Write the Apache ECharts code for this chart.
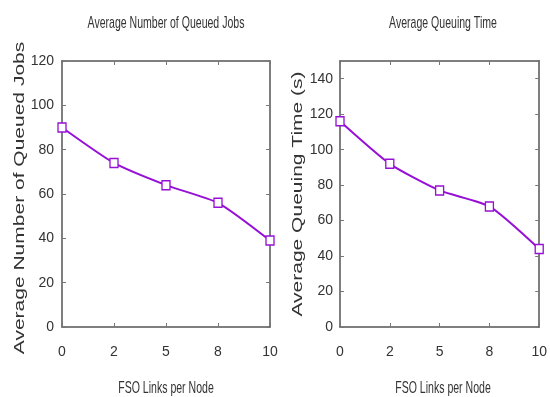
<!DOCTYPE html>
<html>
<head>
<meta charset="utf-8">
<script src="https://cdn.jsdelivr.net/npm/echarts@6/dist/echarts.min.js"></script>
<style>
  html, body { margin: 0; padding: 0; background: #fff; }
  #chart { width: 550px; height: 397px; }
</style>
</head>
<body>
<div id="chart"></div>
<script>
// FSO links per node (category axis)
const categories = ['0', '2', '5', '8', '10'];
// left panel: average number of queued jobs
const queuedJobs = [90, 74, 64, 56, 39];
// right panel: average queuing time (s)
const queuingTime = [116, 92, 77, 68, 44];

const lineColor = '#9610d6';
const frameColor = '#555';
const sans = '"Liberation Sans", Arial, sans-serif';

const chart = echarts.init(document.getElementById('chart'));

function xAxisPair(gridIndex) {
    return [{
        type: 'category', gridIndex, data: categories, boundaryGap: false,
        axisLine: { onZero: false, lineStyle: { color: frameColor, width: 1.5 } },
        axisTick: { inside: true, length: 4, lineStyle: { color: '#777' } },
        axisLabel: { margin: 18, fontSize: 14, fontFamily: sans, color: '#333' },
        splitLine: { show: false }
    }, {
        type: 'category', gridIndex, data: categories, boundaryGap: false, position: 'top',
        axisLine: { onZero: false, lineStyle: { color: frameColor, width: 1.5 } },
        axisTick: { inside: true, length: 4, lineStyle: { color: '#777' } },
        axisLabel: { show: false },
        splitLine: { show: false }
    }];
}

function yAxisPair(gridIndex, max, margin) {
    return [{
        type: 'value', gridIndex, min: 0, max, interval: 20,
        axisLine: { show: true, onZero: false, lineStyle: { color: frameColor, width: 1.5 } },
        axisTick: { show: true, inside: true, length: 4, lineStyle: { color: '#777' } },
        axisLabel: { margin, fontSize: 14, fontFamily: sans, color: '#333', showMaxLabel: max % 20 === 0 },
        splitLine: { show: false }
    }, {
        type: 'value', gridIndex, min: 0, max, interval: 20, position: 'right',
        axisLine: { show: true, onZero: false, lineStyle: { color: frameColor, width: 1.5 } },
        axisTick: { show: true, inside: true, length: 4, lineStyle: { color: '#777' } },
        axisLabel: { show: false },
        splitLine: { show: false }
    }];
}

function txt(x, y, text, size, extra) {
    return Object.assign({
        type: 'text', x, y,
        style: {
            text, fill: '#333',
            fontSize: size, fontFamily: sans,
            textAlign: 'center', textVerticalAlign: 'middle',
            align: 'center', verticalAlign: 'middle'
        }
    }, extra);
}

const series = [queuedJobs, queuingTime].map((data, i) => ({
    type: 'line',
    data,
    xAxisIndex: i * 2,
    yAxisIndex: i * 2,
    smooth: 0.2,
    symbol: 'rect',
    symbolSize: [8, 9],
    showSymbol: true,
    lineStyle: { color: lineColor, width: 2 },
    itemStyle: { color: '#fff', borderColor: lineColor, borderWidth: 1.4 },
    z: 5
}));

const option = {
    animation: false,
    grid: [
        { left: 62, top: 61, width: 208, height: 266 },
        { left: 340, top: 61, width: 207, height: 266 }
    ],
    xAxis: [...xAxisPair(0), ...xAxisPair(1)],
    yAxis: [...yAxisPair(0, 120, 8), ...yAxisPair(1, 150, 7)],
    series,
    graphic: [
        txt(166, 23, 'Average Number of Queued Jobs', 17, { scaleX: 0.62 }),
        txt(443, 23, 'Average Queuing Time', 17, { scaleX: 0.62 }),
        txt(166, 388, 'FSO Links per Node', 17, { scaleX: 0.62 }),
        txt(443, 388, 'FSO Links per Node', 17, { scaleX: 0.62 }),
        txt(20, 198, 'Average Number of Queued Jobs', 14, { rotation: Math.PI / 2, scaleX: 1.5 }),
        txt(298, 194, 'Average Queuing Time (s)', 14, { rotation: Math.PI / 2, scaleX: 1.5 })
    ]
};

chart.setOption(option);
</script>
</body>
</html>
